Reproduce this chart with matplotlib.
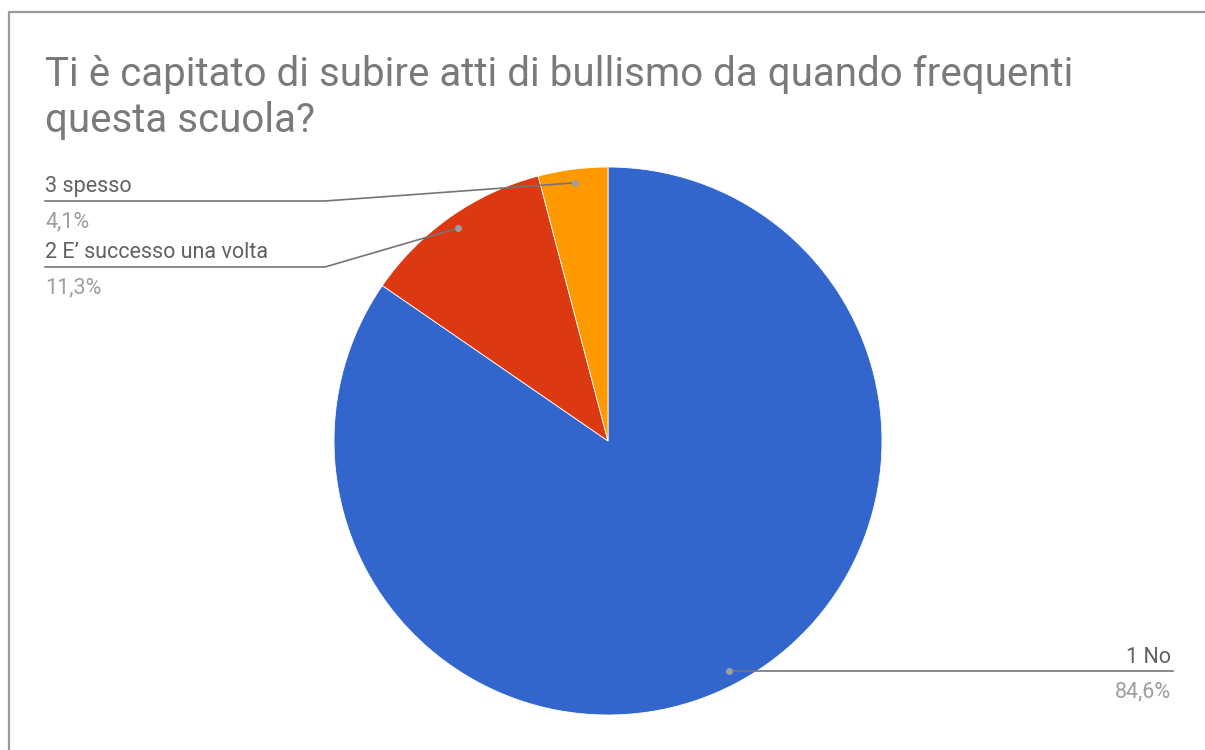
import numpy as np
import matplotlib
matplotlib.use("Agg")
import matplotlib.pyplot as plt
from matplotlib.lines import Line2D

title = "Ti è capitato di subire atti di bullismo da quando frequenti\nquesta scuola?"
categories = ["1 No", "2 E’ successo una volta", "3 spesso"]
values = [84.6, 11.3, 4.1]
pct_labels = ["84,6%", "11,3%", "4,1%"]
colors = ["#3366cc", "#dc3912", "#ff9900"]

W, H = 1205, 750
fig = plt.figure(figsize=(W / 100, H / 100), dpi=100)
fig.patch.set_facecolor("white")
plt.rcParams['font.family'] = ['Roboto', 'DejaVu Sans']

# pie
cx, cy, R = 608, 441, 274
ax = fig.add_axes([(cx - R) / W, (H - cy - R) / H, 2 * R / W, 2 * R / H])
wedges, _ = ax.pie(values, colors=colors, startangle=90, counterclock=False,
                   radius=1, wedgeprops=dict(linewidth=0.6, edgecolor="white"))
ax.set_xlim(-1, 1)
ax.set_ylim(-1, 1)
ax.set_aspect("equal")
ax.axis("off")
ax.set_zorder(1)

# overlay in pixel coordinates
ov = fig.add_axes([0, 0, 1, 1])
ov.set_xlim(0, W)
ov.set_ylim(H, 0)
ov.axis("off")
ov.set_zorder(2)
ov.patch.set_alpha(0)
fig.canvas.draw()

# frame
ov.add_line(Line2D([8.5, 8.5, W], [H, 11.5, 11.5], color="#9a9a9a", lw=1.6,
                   solid_capstyle="butt", solid_joinstyle="miter"))

# title
t1, t2 = title.split("\n")
ov.text(45, 86, t1, fontsize=29, color="#7a7a7a", va="baseline", ha="left")
ov.text(45, 132, t2, fontsize=29, color="#7a7a7a", va="baseline", ha="left")


def dot_px(w, r=0.95):
    ang = np.deg2rad((w.theta1 + w.theta2) / 2)
    p = ax.transData.transform((r * np.cos(ang), r * np.sin(ang)))
    return ov.transData.inverted().transform(p)

line_col = "#757575"
lab_col = "#616161"
pct_col = "#9e9e9e"
fs = 15.5

# left labels: orange (3 spesso) and red (2)
left_specs = [(2, 192, 201, 227), (1, 258, 267, 293)]
for idx, base, uy, pbase in left_specs:
    dx, dy = dot_px(wedges[idx])
    ov.text(45, base, categories[idx], fontsize=fs, color=lab_col, va="baseline", ha="left")
    ov.text(45, pbase, pct_labels[idx], fontsize=fs, color=pct_col, va="baseline", ha="left")
    ov.add_line(Line2D([45, 325, dx], [uy, uy, dy], color=line_col, lw=1.2))
    ov.plot([dx], [dy], "o", ms=5, color="#9e9e9e", mec="none", zorder=5)

# right label: blue (1 No)
dx, dy = dot_px(wedges[0])
ov.text(1171, 663, categories[0], fontsize=fs, color=lab_col, va="baseline", ha="right")
ov.text(1171, 697, pct_labels[0], fontsize=fs, color=pct_col, va="baseline", ha="right")
ov.add_line(Line2D([dx, 1173], [dy, dy], color=line_col, lw=1.2))
ov.plot([dx], [dy], "o", ms=5, color="#9e9e9e", mec="none", zorder=5)

fig.savefig("out.png", dpi=100, facecolor="white")
